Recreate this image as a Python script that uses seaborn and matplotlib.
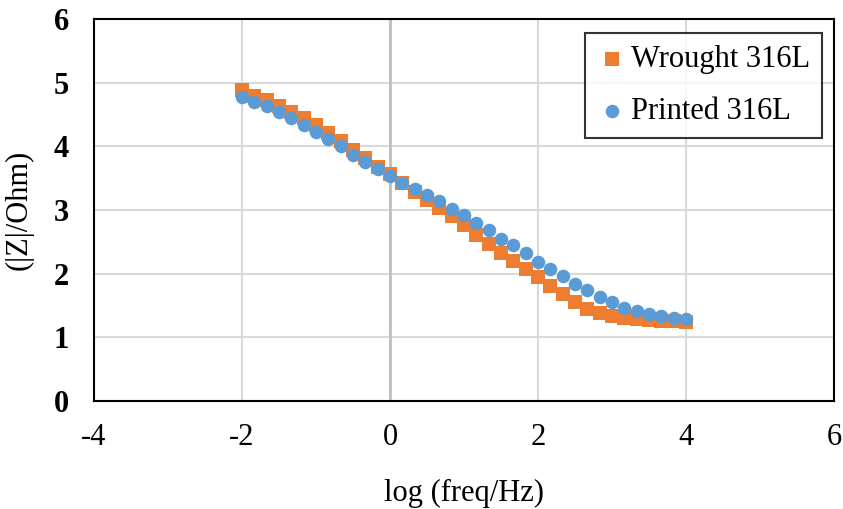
import numpy as np
import pandas as pd
import matplotlib
matplotlib.use("Agg")
import matplotlib.pyplot as plt
import seaborn as sns

# log(freq/Hz), 6 points per decade from -2 to 4
log_freq = [round(-2 + i / 6, 4) for i in range(37)]

wrought_316l = [4.89, 4.79, 4.72, 4.64, 4.54, 4.44, 4.33, 4.21, 4.08, 3.95,
                3.82, 3.68, 3.56, 3.43, 3.29, 3.16, 3.03, 2.90, 2.76, 2.61,
                2.47, 2.33, 2.20, 2.07, 1.94, 1.80, 1.68, 1.55, 1.45, 1.38,
                1.33, 1.30, 1.28, 1.27, 1.26, 1.25, 1.24]

printed_316l = [4.77, 4.70, 4.63, 4.54, 4.44, 4.34, 4.23, 4.11, 4.00, 3.87,
                3.75, 3.65, 3.54, 3.43, 3.33, 3.24, 3.14, 3.02, 2.92, 2.80,
                2.68, 2.55, 2.45, 2.32, 2.19, 2.07, 1.96, 1.84, 1.74, 1.64,
                1.55, 1.46, 1.41, 1.37, 1.34, 1.31, 1.29]

x_ticks = [-4, -2, 0, 2, 4, 6]
y_ticks = [0, 1, 2, 3, 4, 5, 6]

sns.set_style("white")
plt.rcParams['font.family'] = ['Liberation Serif', 'DejaVu Serif']
plt.rcParams.update({'text.color': 'black', 'axes.labelcolor': 'black',
                     'xtick.color': 'black', 'ytick.color': 'black'})

df_w = pd.DataFrame({'x': log_freq, 'y': wrought_316l})
df_p = pd.DataFrame({'x': log_freq, 'y': printed_316l})

fig = plt.figure(figsize=(8.43, 5.09), dpi=100)
ax = fig.add_axes([0.1115, 0.2122, 0.8778, 0.7505])

sns.scatterplot(data=df_w, x='x', y='y', ax=ax, marker='s', s=100,
                color='#ED7D31', linewidth=0, label='Wrought 316L', zorder=3)
sns.scatterplot(data=df_p, x='x', y='y', ax=ax, marker='o', s=95,
                color='#5B9BD5', linewidth=0, label='Printed 316L', zorder=4)

ax.set_xlim(-4, 6)
ax.set_ylim(0, 6)
ax.set_xticks(x_ticks)
ax.set_yticks(y_ticks)
ax.set_xticklabels([str(t) for t in x_ticks], fontsize=22)
ax.set_yticklabels([str(t) for t in y_ticks], fontsize=22, fontweight='bold')
ax.tick_params(axis='x', length=0, pad=16)
ax.tick_params(axis='y', length=0, pad=18)

ax.grid(True, color='#D9D9D9', linewidth=1.5)
ax.axvline(0, color='#BFBFBF', linewidth=2, zorder=1)
ax.set_axisbelow(True)
for sp in ax.spines.values():
    sp.set_color('black')
    sp.set_linewidth(1.5)

ax.set_xlabel('log (freq/Hz)', fontsize=22, labelpad=19)
ax.set_ylabel('(|Z|/Ohm)', fontsize=22)
ax.yaxis.set_label_coords(-0.082, 0.5)

leg = ax.legend(loc='upper right', bbox_to_anchor=(0.984, 0.963), fontsize=22,
                frameon=True, fancybox=False, edgecolor='black',
                handletextpad=0.1, handlelength=1.0, borderpad=0.4,
                labelspacing=0.75, markerscale=1.0, borderaxespad=0)
leg.get_frame().set_linewidth(1.5)

fig.savefig('out.png', dpi=100)
